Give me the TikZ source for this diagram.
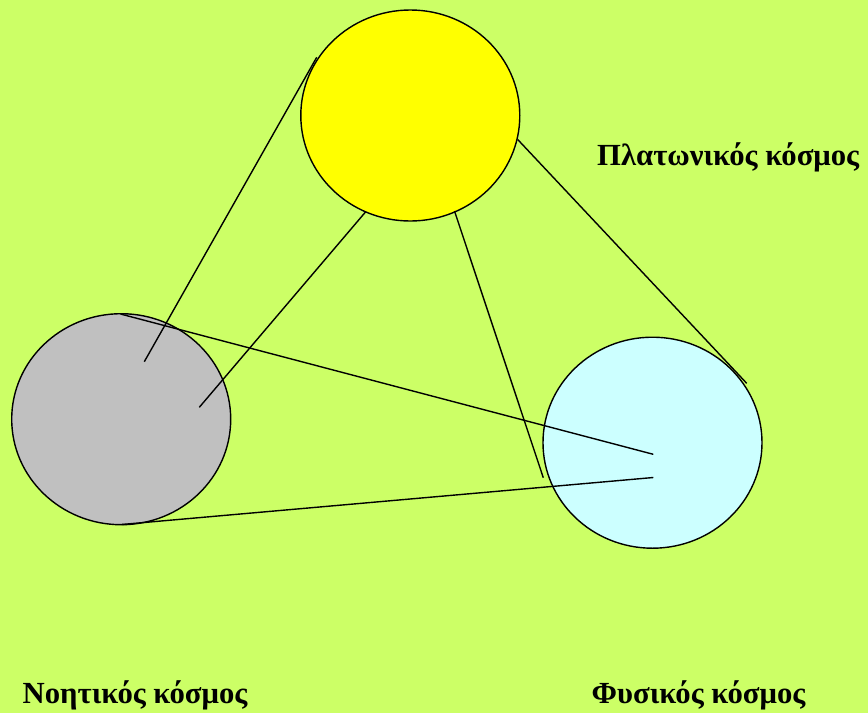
\documentclass[tikz,border=0pt]{standalone}
\usepackage{fontspec}
\setmainfont{Liberation Serif}
\usetikzlibrary{shapes.geometric}
\begin{document}
\begin{tikzpicture}[x=1pt,y=-1pt,
  world/.style={draw=black,line width=1.4pt,ellipse,minimum width=219pt,minimum height=211pt,inner sep=0pt},
  link/.style={draw=black,line width=1.4pt},
  lbl/.style={font=\bfseries\fontsize{30.7}{34}\selectfont,inner sep=0pt,anchor=base west}]
\fill[fill={rgb,255:red,204;green,255;blue,102}] (0,0) rectangle (868,713);
\useasboundingbox (0,0) rectangle (868,713);
\node[world,fill={rgb,255:red,255;green,255;blue,0}] (plato) at (410.3,115.5) {};
\node[world,fill={rgb,255:red,192;green,192;blue,192}] (noet) at (121.2,419.2) {};
\node[world,fill={rgb,255:red,204;green,255;blue,255}] (phys) at (652.5,442.7) {};
\coordinate (a1) at (316.7,57.3);  \coordinate (a2) at (144.3,361.7);
\coordinate (b1) at (365.5,212);   \coordinate (b2) at (199.3,407.3);
\coordinate (c1) at (454.5,211);   \coordinate (c2) at (543.3,477.7);
\coordinate (d1) at (517.7,139.5); \coordinate (d2) at (746.7,383.3);
\coordinate (e1) at (120.5,314);   \coordinate (e2) at (653.3,454.3);
\coordinate (f1) at (121.5,524.5); \coordinate (f2) at (653.3,477.5);
\draw[link] (a1) -- (a2);
\draw[link] (b1) -- (b2);
\draw[link] (c1) -- (c2);
\draw[link] (d1) -- (d2);
\draw[link] (e1) -- (e2);
\draw[link] (f1) -- (f2);
\node[lbl] (tp) at (597,165) {Πλατωνικός κόσμος};
\node[lbl] (tn) at (22.5,703.5) {Νοητικός κόσμος};
\node[lbl] (tf) at (591.5,703.5) {Φυσικός κόσμος};
\end{tikzpicture}
\end{document}
